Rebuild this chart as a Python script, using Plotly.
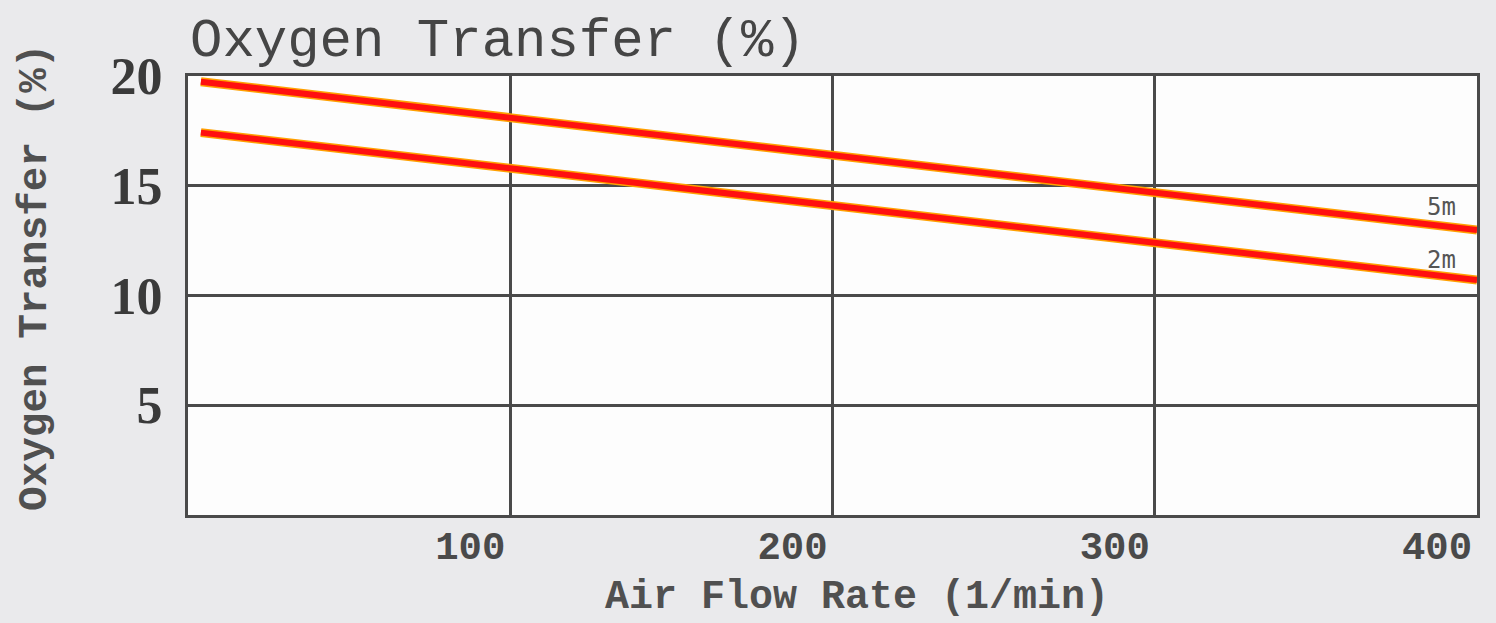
import plotly.graph_objects as go

# Data
flow_5m = [4, 400]
o2_5m = [19.74, 12.98]
flow_2m = [4, 400]
o2_2m = [17.42, 10.71]
series_names = ["5m", "2m"]
x_ticks = [100, 200, 300, 400]
y_ticks = [5, 10, 15, 20]

fig = go.Figure()
for xs, ys in [(flow_5m, o2_5m), (flow_2m, o2_2m)]:
    fig.add_trace(go.Scatter(x=xs, y=ys, mode="lines",
                             line=dict(color="#ffa000", width=9), hoverinfo="skip", showlegend=False))
    fig.add_trace(go.Scatter(x=xs, y=ys, mode="lines",
                             line=dict(color="#ff1010", width=6), showlegend=False))

grid_col = "#4a4a4a"
fig.update_layout(
    width=1496, height=623,
    margin=dict(l=188, r=19, t=76, b=108),
    paper_bgcolor="#eaeaec",
    plot_bgcolor="#fdfdfd",
    showlegend=False,
)
fig.update_xaxes(range=[0, 400], tickvals=x_ticks, ticktext=[str(v) for v in x_ticks],
                 showgrid=True, gridcolor=grid_col, gridwidth=3,
                 showline=True, linecolor=grid_col, linewidth=3, mirror=True,
                 zeroline=False, ticks="", ticklabelshift=-40, ticklabelstandoff=-6,
                 tickfont=dict(family="Liberation Mono", size=39, color="#4a4a4a", weight="bold"))
fig.update_yaxes(range=[0, 20], tickvals=y_ticks, ticktext=[str(v) for v in y_ticks],
                 showgrid=True, gridcolor=grid_col, gridwidth=3,
                 showline=True, linecolor=grid_col, linewidth=3, mirror=True,
                 zeroline=False, ticks="", ticklabelstandoff=12,
                 tickfont=dict(family="Liberation Serif", size=52, color="#3a3a3a", weight="bold"))

# Titles
fig.add_annotation(text="Oxygen Transfer (%)", xref="paper", yref="paper", x=0, y=1,
                   xanchor="left", yanchor="bottom", yshift=2, showarrow=False,
                   font=dict(family="Liberation Mono", size=54, color="#454545"))
fig.add_annotation(text="Oxygen Transfer (%)", xref="paper", yref="paper",
                   x=(35 - 188) / 1289, y=(515 - 278) / 439, textangle=-90,
                   xanchor="center", yanchor="middle", showarrow=False,
                   font=dict(family="Liberation Mono", size=41, color="#505050", weight="bold"))
fig.add_annotation(text="Air Flow Rate (1/min)", xref="paper", yref="paper",
                   x=(857 - 188) / 1289, y=(515 - 597) / 439,
                   xanchor="center", yanchor="middle", showarrow=False,
                   font=dict(family="Liberation Mono", size=40, color="#505050", weight="bold"))

# Series labels
for name, yv in zip(series_names, [14.03, 11.62]):
    fig.add_annotation(text=name, x=394, y=yv, xanchor="right", yanchor="middle",
                       showarrow=False,
                       font=dict(family="DejaVu Sans Mono", size=24, color="#555555"))

fig.write_html("out.html", config={"displayModeBar": False},
               post_script="document.body.style.margin='0px';document.body.style.overflow='hidden';")
